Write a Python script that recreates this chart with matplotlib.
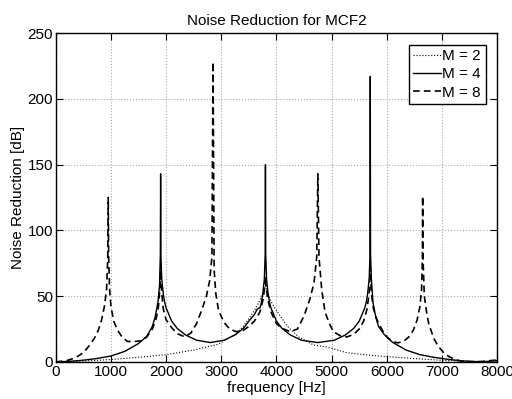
import matplotlib
matplotlib.use("Agg")
import matplotlib.pyplot as plt

plt.rcParams['font.family'] = ['Liberation Sans', 'DejaVu Sans']

# values (frequency in Hz, reduction in dB)
freq_m2 = [0, 500, 1000, 1500, 2000, 2500, 2950, 3250, 3400, 3500, 3600, 3700,
           3760, 3800, 3840, 3900, 4000, 4100, 4200, 4400, 4663, 4940, 5274,
           5600, 5900, 6500, 7000, 7500, 7800, 8000]
nr_m2 = [0, 0.6, 1.8, 3.5, 5.5, 9, 13.5, 21, 27, 33, 39, 47,
         53, 58, 53, 46, 39, 33, 27, 19, 13, 11, 7,
         5.5, 4.3, 2.5, 1.2, 0.4, 0.3, 0.6]

freq_m4 = [0, 250, 500, 750, 1000, 1250, 1500, 1650, 1750, 1800, 1850, 1880,
           1895, 1900, 1905, 1920, 1950, 1975, 2000, 2100, 2200, 2350, 2550,
           2800, 3050, 3250, 3400, 3500, 3600, 3625, 3650, 3680, 3700, 3725,
           3750, 3780, 3795, 3800, 3805, 3820, 3850, 3875, 3900, 4000, 4100,
           4250, 4450, 4750, 5050, 5250, 5400, 5500, 5600, 5625, 5650, 5680,
           5695, 5700, 5705, 5720, 5750, 5800, 5850, 5950, 6100, 6350, 6600,
           6850, 7100, 7350, 7600, 7800, 8000]
nr_m4 = [0, 0.4, 1.3, 2.6, 4.5, 8, 14, 19.5, 27, 34, 45, 58,
         82, 143, 82, 63, 51, 45, 41, 31, 25.5, 20.5, 16.5,
         14.7, 16.5, 20.5, 25.5, 31, 36, 38, 40, 41, 41, 45,
         51, 63, 82, 150, 82, 63, 51, 45, 41, 31, 25.5,
         20.5, 16.5, 14.7, 16.5, 20.5, 25.5, 31, 41, 45, 51, 63,
         82, 217, 82, 63, 45, 34, 27, 21, 15, 9, 5.5,
         3.5, 2, 0.8, 0.2, 0.3, 1]

freq_m8 = [0, 200, 350, 500, 600, 700, 770, 830, 880, 920, 942, 950, 958, 975,
           1000, 1050, 1120, 1200, 1300, 1420, 1550, 1650, 1750, 1820, 1860,
           1885, 1900, 1915, 1950, 2000, 2100, 2200, 2340, 2450, 2550, 2650,
           2730, 2790, 2830, 2850, 2870, 2900, 2950, 3050, 3150, 3270, 3400,
           3500, 3600, 3700, 3760, 3790, 3800, 3810, 3840, 3900, 4000, 4100,
           4250, 4380, 4500, 4600, 4680, 4730, 4750, 4770, 4820, 4880, 4950,
           5030, 5150, 5280, 5400, 5500, 5580, 5640, 5680, 5700, 5720, 5760,
           5830, 5920, 6000, 6100, 6200, 6300, 6400, 6480, 6550, 6600, 6630,
           6645, 6650, 6655, 6680, 6720, 6760, 6850, 6930, 7050, 7150, 7300,
           7500, 7700, 8000]
nr_m8 = [0, 1, 3, 7, 12, 18, 24, 32, 42, 55, 80, 125, 80, 55,
         42, 31, 24, 19, 15.5, 15.5, 16, 19, 25, 33, 42,
         55, 70, 55, 40, 32, 26, 21.5, 19, 22, 29, 40,
         50, 62, 80, 228, 70, 52, 39, 30, 25, 23, 24,
         27, 31, 38, 48, 58, 65, 58, 48, 38, 29, 25.5,
         23, 25, 35, 47, 60, 80, 143, 80, 55, 38, 30,
         23, 20, 19, 21, 25, 31, 40, 52, 72, 52, 40,
         31, 24, 19, 15.5, 14.5, 15.5, 19, 24, 32, 42, 55,
         80, 126, 80, 50, 38, 29, 18, 12, 6, 3.5, 1,
         0.2, 0.2, 1.5]

xticks = [0, 1000, 2000, 3000, 4000, 5000, 6000, 7000, 8000]
yticks = [0, 50, 100, 150, 200, 250]

fig = plt.figure(figsize=(5.12, 3.99), dpi=100)
ax = fig.add_axes([0.109, 0.093, 0.862, 0.824])

ax.plot(freq_m2, nr_m2, color='k', linestyle=':', linewidth=0.8, label='M = 2')
ax.plot(freq_m4, nr_m4, color='k', linestyle='-', linewidth=1.0, label='M = 4')
ax.plot(freq_m8, nr_m8, color='k', linestyle=(0, (4, 2.5)), linewidth=1.2, label='M = 8')

ax.set_xlim(0, 8000)
ax.set_ylim(0, 250)
ax.set_xticks(xticks)
ax.set_yticks(yticks)
ax.tick_params(direction='in', top=True, right=True, labelsize=11, length=5,
               width=0.8, pad=2)
ax.grid(True, linestyle=':', color='#aaaaaa', linewidth=0.8)
for s in ax.spines.values():
    s.set_linewidth(1.0)

ax.set_title('Noise Reduction for MCF2', fontsize=11, pad=6)
ax.set_xlabel('frequency [Hz]', fontsize=11, labelpad=2)
ax.set_ylabel('Noise Reduction [dB]', fontsize=11, labelpad=2)

leg = ax.legend(loc='upper right', fontsize=11, frameon=True, fancybox=False,
                edgecolor='k', framealpha=1, handlelength=1.8, handletextpad=0.1,
                borderpad=0.3, labelspacing=0.28, borderaxespad=0.75)
leg.get_frame().set_linewidth(1.0)

fig.savefig('out.png', dpi=100)
